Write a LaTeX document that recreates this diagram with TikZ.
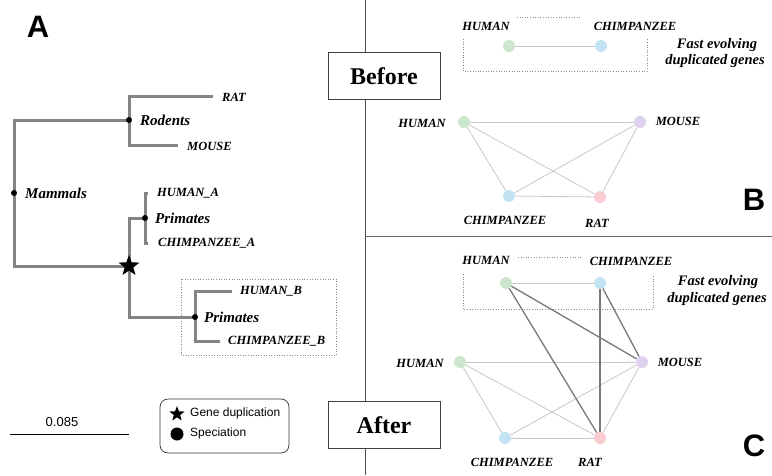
\documentclass[tikz,border=0pt]{standalone}
\usepackage{fontspec}
\setmainfont{Liberation Serif}
\setsansfont{Liberation Sans}
\usetikzlibrary{shapes.geometric}
\definecolor{branchgray}{RGB}{132,132,132}
\definecolor{edgelight}{RGB}{200,200,200}
\definecolor{edgedark}{RGB}{120,120,120}
\definecolor{hucol}{RGB}{204,230,204}
\definecolor{chcol}{RGB}{194,228,242}
\definecolor{mocol}{RGB}{222,210,238}
\definecolor{racol}{RGB}{250,204,210}
\tikzset{
  branch/.style={draw=branchgray, line width=3pt},
  spec/.style={circle, fill=black, inner sep=0pt, minimum size=6pt},
  dupstar/.style={star, star points=5, star point ratio=2.4, fill=black, inner sep=0pt, minimum size=22pt},
  clade/.style={font=\fontsize{15}{17}\selectfont\bfseries\itshape, anchor=west, inner sep=0pt},
  leaf/.style={font=\fontsize{12.5}{14}\selectfont\bfseries\itshape, anchor=west, inner sep=0pt},
  gene/.style={circle, inner sep=0pt, minimum size=12pt},
  glabel/.style={font=\fontsize{12.5}{14}\selectfont\bfseries\itshape, inner sep=0pt},
  fastlabel/.style={font=\fontsize{14.5}{17}\selectfont\bfseries\itshape, inner sep=0pt},
  weak/.style={draw=edgelight, line width=0.8pt},
  strong/.style={draw=edgedark, line width=1.3pt},
  stagebox/.style={draw=black!75, fill=white, line width=0.8pt, minimum width=112pt, minimum height=47pt, font=\fontsize{24}{28}\selectfont\bfseries},
  panel/.style={font=\sffamily\bfseries\fontsize{31}{34}\selectfont, inner sep=0pt},
  fastbox/.style={draw=black!45, dotted, line width=0.6pt}
}
\begin{document}
\begin{tikzpicture}[x=1pt, y=-1pt]
  \useasboundingbox (0,0) rectangle (772,475);
  \draw[black!70, line width=0.8pt] (365,0) -- (365,475);
  \draw[black!60, line width=0.8pt] (365,236) -- (772,236);

  \node[panel] (pA) at (38,27) {A};
  \node[panel] (pB) at (754,200) {B};
  \node[panel] (pC) at (754,446) {C};

  \coordinate (mam) at (14,193);
  \coordinate (rod) at (129,120);
  \coordinate (dup) at (129,266);
  \coordinate (priA) at (145,218);
  \coordinate (priB) at (195,317);
  \coordinate (ratE) at (213,96);
  \coordinate (mouE) at (178,145);
  \coordinate (humAE) at (148,193);
  \coordinate (chiAE) at (148,243);
  \coordinate (humBE) at (232,291);
  \coordinate (chiBE) at (220,341);
  \draw[branch] (ratE) -| (rod) |- (mouE);
  \draw[branch] (rod) -| (mam) |- (dup);
  \draw[branch] (priA) -| (dup) |- (priB);
  \draw[branch] (humAE) -| (priA) |- (chiAE);
  \draw[branch] (humBE) -| (priB) |- (chiBE);
  \node[spec] (mamDot) at (mam) {};
  \node[spec] (rodDot) at (rod) {};
  \node[spec] (priADot) at (priA) {};
  \node[spec] (priBDot) at (priB) {};
  \node[dupstar] (dupStar) at (dup) {};

  \node[clade] (tMam) at (25,193) {Mammals};
  \node[clade] (tRod) at (140,120) {Rodents};
  \node[clade] (tPriA) at (155,218) {Primates};
  \node[clade] (tPriB) at (204,317) {Primates};
  \node[leaf] (tRat) at (222,97) {RAT};
  \node[leaf] (tMou) at (187,146) {MOUSE};
  \node[leaf] (tHumA) at (157,193) {HUMAN\_A};
  \node[leaf] (tChiA) at (158,243) {CHIMPANZEE\_A};
  \node[leaf] (tHumB) at (240,291) {HUMAN\_B};
  \node[leaf] (tChiB) at (228,341) {CHIMPANZEE\_B};
  \draw[fastbox] (181,279) rectangle (336,355);

  \draw[black, line width=0.8pt] (10,434) -- (129,434);
  \node[font=\sffamily\fontsize{13}{15}\selectfont] (scale) at (62,422) {0.085};
  \draw[black!80, rounded corners=8pt, line width=0.7pt] (160,399) rectangle (289,453);
  \node[dupstar, minimum size=16pt] (keyStar) at (177,414) {};
  \node[circle, fill=black, inner sep=0pt, minimum size=13pt] (keyDot) at (177,434) {};
  \node[font=\sffamily\fontsize{12}{14}\selectfont, anchor=west, inner sep=0pt] (keyDup) at (190,413) {Gene duplication};
  \node[font=\sffamily\fontsize{12}{14}\selectfont, anchor=west, inner sep=0pt] (keySpe) at (190,433) {Speciation};

  \node[stagebox] (before) at (384,76) {Before};
  \node[stagebox] (after) at (384,425) {After};

  \draw[fastbox] (463,39) -- (463,71) -- (647,71) -- (647,39);
  \draw[fastbox] (517,17) -- (580,17);
  \node[gene, fill=hucol] (bhf) at (509,46) {};
  \node[gene, fill=chcol] (bcf) at (601,46) {};
  \node[glabel] (lbhf) at (486,26) {HUMAN};
  \node[glabel] (lbcf) at (635,26) {CHIMPANZEE};
  \node[fastlabel] (bfast1) at (717,45) {Fast evolving};
  \node[fastlabel] (bfast2) at (715,61) {duplicated genes};
  \node[gene, fill=hucol] (bh) at (464,122) {};
  \node[gene, fill=mocol] (bm) at (640,122) {};
  \node[gene, fill=chcol] (bc) at (509,196) {};
  \node[gene, fill=racol] (br) at (600,197) {};
  \node[glabel] (lbh) at (422,123) {HUMAN};
  \node[glabel] (lbm) at (678,121) {MOUSE};
  \node[glabel] (lbc) at (505,220) {CHIMPANZEE};
  \node[glabel] (lbr) at (597,223) {RAT};
  \draw[weak] (bhf) -- (bcf);
  \draw[weak] (bh) -- (bm);
  \draw[weak] (bh) -- (bc);
  \draw[weak] (bh) -- (br);
  \draw[weak] (bc) -- (bm);
  \draw[weak] (bc) -- (br);
  \draw[weak] (br) -- (bm);

  \draw[fastbox] (463,274) -- (463,309) -- (653,309) -- (653,274);
  \draw[fastbox] (518,257) -- (581,257);
  \node[gene, fill=hucol] (ahf) at (506,283) {};
  \node[gene, fill=chcol] (acf) at (600,283) {};
  \node[glabel] (lahf) at (486,260) {HUMAN};
  \node[glabel] (lacf) at (631,261) {CHIMPANZEE};
  \node[fastlabel] (afast1) at (718,282) {Fast evolving};
  \node[fastlabel] (afast2) at (717,299) {duplicated genes};
  \node[gene, fill=hucol] (ah) at (460,362) {};
  \node[gene, fill=mocol] (am) at (642,362) {};
  \node[gene, fill=chcol] (ac) at (505,438) {};
  \node[gene, fill=racol] (ar) at (600,438) {};
  \node[glabel] (lah) at (420,363) {HUMAN};
  \node[glabel] (lam) at (680,362) {MOUSE};
  \node[glabel] (lac) at (512,462) {CHIMPANZEE};
  \node[glabel] (lar) at (590,462) {RAT};
  \draw[weak] (ahf) -- (acf);
  \draw[weak] (ah) -- (am);
  \draw[weak] (ah) -- (ac);
  \draw[weak] (ah) -- (ar);
  \draw[weak] (ac) -- (am);
  \draw[weak] (ac) -- (ar);
  \draw[weak] (ar) -- (am);
  \draw[strong] (ahf) -- (am);
  \draw[strong] (ahf) -- (ar);
  \draw[strong] (acf) -- (ar);
  \draw[strong] (acf) -- (am);
\end{tikzpicture}
\end{document}
